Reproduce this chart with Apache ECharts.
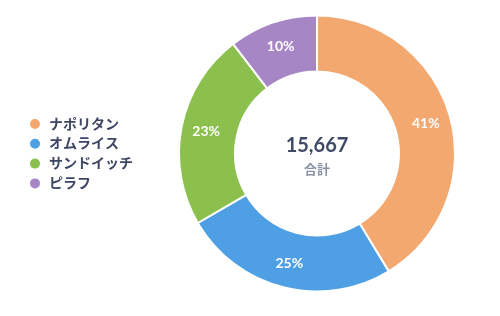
<!DOCTYPE html>
<html><head><meta charset="utf-8">
<script src="https://cdn.jsdelivr.net/npm/echarts@6/dist/echarts.min.js"></script>
<style>html,body{margin:0;padding:0;background:#fff}#c{width:500px;height:316px}</style>
</head><body><div id="c"></div>
<script>
const categories = ['ナポリタン', 'オムライス', 'サンドイッチ', 'ピラフ'];
const values = [6470, 3964, 3603, 1630];
const colors = ['#F2A86F', '#4E9FE3', '#8BBF4E', '#A786C6'];
const totalLabel = '合計';
const total = values.reduce((a, b) => a + b, 0);
const FONT = 'Lato, "Noto Sans CJK JP", sans-serif';
const chart = echarts.init(document.getElementById('c'));
chart.setOption({
  animation: false,
  color: colors,
  legend: {
    orient: 'vertical', left: 28, top: 117, padding: 0,
    icon: 'circle', itemWidth: 12, itemHeight: 12, itemGap: 5.8,
    textStyle: { fontFamily: FONT, fontSize: 14, fontWeight: 'bold', color: '#3D4663', padding: [0, 0, 0, 3] },
    data: categories
  },
  graphic: [
    { type: 'text', x: 317, y: 146, style: { text: total.toLocaleString('en-US'), font: 'bold 20px ' + FONT, fill: '#3F4A66', textAlign: 'center', textVerticalAlign: 'middle' } },
    { type: 'text', x: 317, y: 170, style: { text: totalLabel, font: 'bold 13px ' + FONT, fill: '#8A93A6', textAlign: 'center', textVerticalAlign: 'middle' } }
  ],
  series: [{
    type: 'pie',
    center: [317, 153.5],
    radius: [82, 138],
    startAngle: 90,
    clockwise: true,
    itemStyle: { borderColor: '#fff', borderWidth: 2 },
    label: {
      show: true, position: 'inside',
      formatter: p => Math.round(p.percent) + '%',
      color: '#fff', fontFamily: FONT, fontSize: 14, fontWeight: 'bold'
    },
    labelLine: { show: false },
    emphasis: { disabled: true },
    data: categories.map((n, i) => ({ name: n, value: values[i] }))
  }]
});
</script></body></html>
